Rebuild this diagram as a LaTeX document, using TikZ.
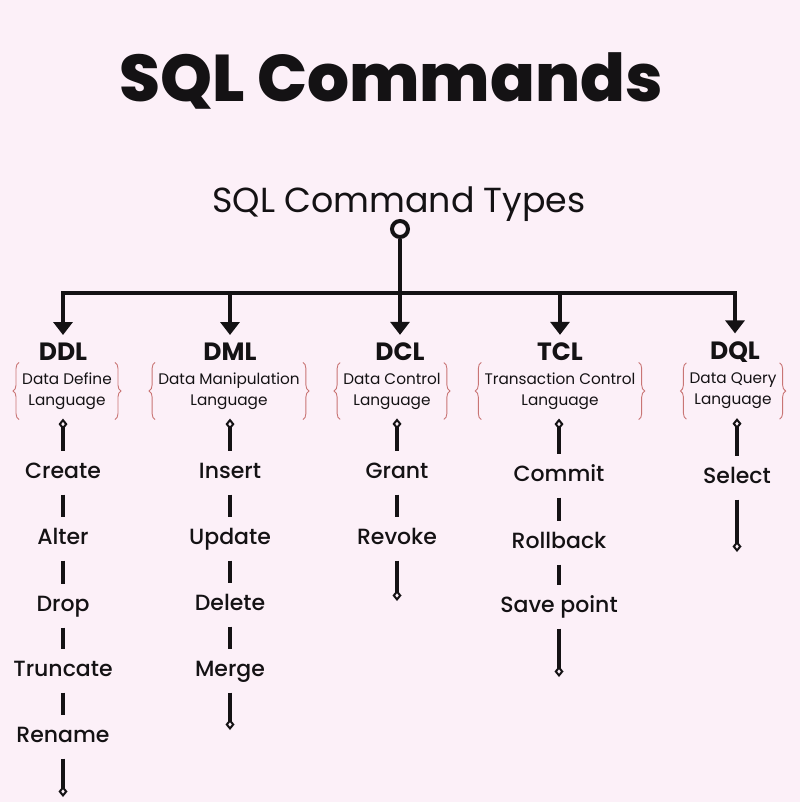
\documentclass[tikz,border=0pt]{standalone}
\usepackage{fontspec}
\setmainfont{Poppins}
\newfontfamily\medfont{Poppins Medium}
\newfontfamily\heavyfont{Poppins ExtraBold}
\usetikzlibrary{arrows.meta, decorations.pathreplacing, calc}
\definecolor{bgpink}{HTML}{FCF0F8}
\definecolor{bracered}{HTML}{C97575}
\definecolor{inkblack}{HTML}{141214}

\tikzset{
  knob/.tip={Diamond[open, line width=2pt, length=11pt, width=9pt]},
  head/.tip={Triangle[length=13pt, width=19pt]},
  cat/.style={font=\bfseries\fontsize{25}{27}\selectfont, inner sep=0pt, text=inkblack},
  sub/.style={font=\fontsize{15.3}{21}\selectfont, align=center, inner sep=0pt, text=inkblack},
  item/.style={font=\medfont\fontsize{22}{24}\selectfont, text height=15pt, text depth=4pt,
    inner xsep=0pt, inner ysep=12pt, text=inkblack},
  bus/.style={line width=4pt, draw=inkblack},
  link/.style={line width=3.2pt, draw=inkblack},
  curly/.style={draw=bracered, line width=0.9pt, decorate, decoration={brace, amplitude=6pt}},
}

\begin{document}
\begin{tikzpicture}[x=1pt, y=-1pt]
  \useasboundingbox (0,0) rectangle (800,802);
  \fill[bgpink] (0,0) rectangle (800,802);

  % title and root
  \node[font=\heavyfont\fontsize{66}{70}\selectfont, text=inkblack, anchor=base] (title) at (391,102) {SQL Commands};
  \node[font=\fontsize{34.8}{38}\selectfont, text=inkblack, anchor=base] (types) at (399,212) {SQL Command Types};
  \node[circle, draw=inkblack, line width=4pt, fill=bgpink, minimum size=16pt, inner sep=0pt] (hub) at (400,229) {};
  \coordinate (bar) at (400,293);

  % command groups
  \node[cat] (ddl) at (63,352) {DDL};
  \node[cat] (dml) at (230,352) {DML};
  \node[cat] (dcl) at (400,352) {DCL};
  \node[cat] (tcl) at (560,352) {TCL};
  \node[cat] (dql) at (735,352) {DQL};

  \node[sub] (ddl-sub) at (67,391) {Data Define\\Language};
  \node[sub] (dml-sub) at (229,391) {Data Manipulation\\Language};
  \node[sub] (dcl-sub) at (392,391) {Data Control\\Language};
  \node[sub] (tcl-sub) at (560,391) {Transaction Control\\Language};
  \node[sub] (dql-sub) at (733,391) {Data Query\\Language};

  \foreach \g in {ddl,dml,dcl,tcl,dql} {
    \draw[curly] ([shift={(-3pt,-10pt)}]\g-sub.south west) -- ([shift={(-3pt,10pt)}]\g-sub.north west);
    \draw[curly] ([shift={(3pt,10pt)}]\g-sub.north east) -- ([shift={(3pt,-10pt)}]\g-sub.south east);
  }

  \draw[bus] (hub) -- (bar);
  \draw[bus, -head, shorten >=8pt] (bar) -| (ddl);
  \draw[bus, -head, shorten >=8pt] (bar) -| (dml);
  \draw[bus, -head, shorten >=8pt] (hub) -- (dcl);
  \draw[bus, -head, shorten >=8pt] (bar) -| (tcl);
  \draw[bus, -head, shorten >=8pt] (bar) -| (dql);

  % DDL
  \node[item] (ddl-1) at (63,473) {Create};
  \node[item] (ddl-2) at (63,539) {Alter};
  \node[item] (ddl-3) at (63,606) {Drop};
  \node[item] (ddl-4) at (63,671) {Truncate};
  \node[item] (ddl-5) at (63,737) {Rename};
  \coordinate (ddl-end) at (63,797);

  % DML
  \node[item] (dml-1) at (230,473) {Insert};
  \node[item] (dml-2) at (230,539) {Update};
  \node[item] (dml-3) at (230,605) {Delete};
  \node[item] (dml-4) at (230,671) {Merge};
  \coordinate (dml-end) at (230,730);

  % DCL
  \node[item] (dcl-1) at (397,473) {Grant};
  \node[item] (dcl-2) at (397,539) {Revoke};
  \coordinate (dcl-end) at (397,601);

  % TCL
  \node[item] (tcl-1) at (559,476) {Commit};
  \node[item] (tcl-2) at (559,543) {Rollback};
  \node[item] (tcl-3) at (559,607) {Save point};
  \coordinate (tcl-end) at (559,677);

  % DQL
  \node[item] (dql-1) at (737,478) {Select};
  \coordinate (dql-end) at (737,552);

  % connectors
  \draw[link, knob-, shorten <=9pt] (ddl-sub.south-|ddl-1) -- (ddl-1);
  \draw[link] (ddl-1) -- (ddl-2);
  \draw[link] (ddl-2) -- (ddl-3);
  \draw[link] (ddl-3) -- (ddl-4);
  \draw[link] (ddl-4) -- (ddl-5);
  \draw[link, -knob] (ddl-5) -- (ddl-end);

  \draw[link, knob-, shorten <=9pt] (dml-sub.south-|dml-1) -- (dml-1);
  \draw[link] (dml-1) -- (dml-2);
  \draw[link] (dml-2) -- (dml-3);
  \draw[link] (dml-3) -- (dml-4);
  \draw[link, -knob] (dml-4) -- (dml-end);

  \draw[link, knob-, shorten <=9pt] (dcl-sub.south-|dcl-1) -- (dcl-1);
  \draw[link] (dcl-1) -- (dcl-2);
  \draw[link, -knob] (dcl-2) -- (dcl-end);

  \draw[link, knob-, shorten <=9pt] (tcl-sub.south-|tcl-1) -- (tcl-1);
  \draw[link] (tcl-1) -- (tcl-2);
  \draw[link] (tcl-2) -- (tcl-3);
  \draw[link, -knob] (tcl-3) -- (tcl-end);

  \draw[link, knob-, shorten <=9pt] (dql-sub.south-|dql-1) -- (dql-1);
  \draw[link, -knob] (dql-1) -- (dql-end);
\end{tikzpicture}
\end{document}
